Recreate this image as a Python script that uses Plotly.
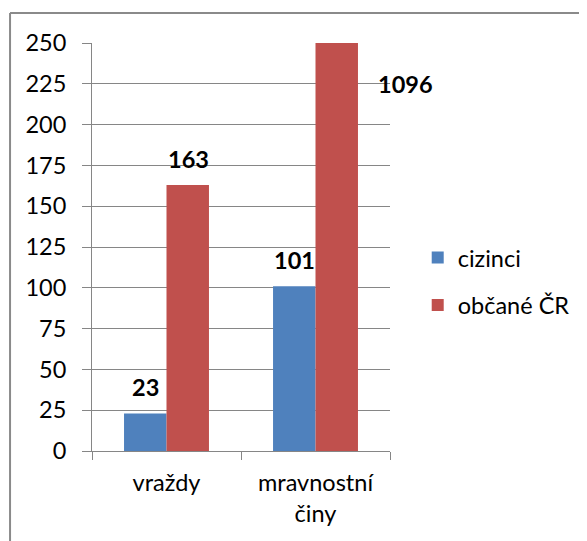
import plotly.graph_objects as go

categories = ["vraždy", "mravnostní<br>činy"]
series_names = ["cizinci", "občané ČR"]
cizinci = [23, 101]
obcane = [163, 1096]
y_ticks = [0, 25, 50, 75, 100, 125, 150, 175, 200, 225, 250]

colors = ["#4F81BD", "#C0504D"]
FONT = "Lato"
FS = 23.5
YMAX = 250

fig = go.Figure()
for name, vals, col in zip(series_names, [cizinci, obcane], colors):
    fig.add_trace(go.Bar(
        x=categories, y=vals, name=name, marker=dict(color=col, line=dict(width=0)),
        legendgroup=name,
    ))

bar_px = 43
for si, vals in enumerate([cizinci, obcane]):
    shift = (-0.5 if si == 0 else 0.5) * bar_px
    for ci, v in enumerate(vals):
        if v <= YMAX:
            fig.add_annotation(x=categories[ci], y=v, text=f"<b>{v}</b>", showarrow=False,
                               xshift=shift, yshift=26, yanchor="middle",
                               font=dict(family=FONT, size=FS, color="#000"))
        else:
            fig.add_annotation(x=categories[ci], y=y_ticks[-2], text=f"<b>{v}</b>", showarrow=False,
                               xshift=shift + bar_px / 2 + 47, yanchor="middle",
                               font=dict(family=FONT, size=FS, color="#000"))

# chart border (left and top edges visible in the reference)
border = dict(color="#8a8a8a", width=2)
fig.add_shape(type="line", xref="paper", yref="paper", x0=-0.275, y0=-0.5, x1=-0.275, y1=1.0735,
              line=border, layer="below")
fig.add_shape(type="line", xref="paper", yref="paper", x0=-0.275, y0=1.0735, x1=1.7, y1=1.0735,
              line=border, layer="below")

fig.update_layout(
    width=579, height=533,
    margin=dict(l=84, r=191, t=35, b=90),
    paper_bgcolor="white", plot_bgcolor="white",
    barmode="group", bargap=0.43, bargroupgap=0,
    font=dict(family=FONT, size=FS, color="#000"),
    showlegend=True,
    legend=dict(x=1.093, y=0.415, xanchor="left", yanchor="middle",
                traceorder="grouped", tracegroupgap=14,
                font=dict(family=FONT, size=FS, color="#000"),
                bgcolor="rgba(0,0,0,0)"),
    xaxis=dict(range=[-0.5, 1.5], autorange=False,
               showline=True, linecolor="#868686", linewidth=1,
               ticks="outside", ticklen=8, tickcolor="#868686", tickson="boundaries",
               ticklabelstandoff=11,
               tickfont=dict(family=FONT, size=FS, color="#000")),
    yaxis=dict(range=[0, YMAX], autorange=False, tickvals=y_ticks,
               showline=True, linecolor="#868686", linewidth=1,
               showgrid=True, gridcolor="#868686", gridwidth=1,
               ticks="outside", ticklen=9, tickcolor="#868686",
               ticklabelstandoff=11, zeroline=False,
               tickfont=dict(family=FONT, size=FS, color="#000")),
)

fig.write_html("out.html")
